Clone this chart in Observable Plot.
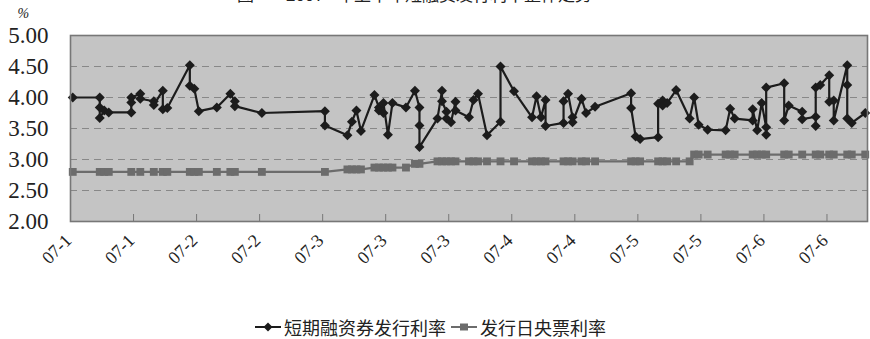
<!DOCTYPE html>
<html><head><meta charset="utf-8">
<script src="https://cdn.jsdelivr.net/npm/d3@7"></script>
<script src="https://cdn.jsdelivr.net/npm/@observablehq/plot@0.6"></script>
<style>
body{margin:0;background:#fff;width:870px;height:339px;position:relative;overflow:hidden;}
#title{position:absolute;top:-15px;left:0;width:870px;height:17px;font:17px/17px "Noto Sans CJK SC";color:#222;white-space:nowrap;}
#title span{position:absolute;top:0;}
#chart{position:absolute;top:0;left:0;}
#chart svg text{font-family:"Liberation Serif","Times New Roman",serif;}
#legend{position:absolute;top:316px;left:255px;display:flex;align-items:center;font:18px/22px "Noto Sans CJK SC";color:#222;white-space:nowrap;}
#legend svg{margin-right:3px;}
#legend span{margin-right:5px;}
</style></head><body>
<div id="title"><span style="left:237px">图</span><span style="left:286px">2007</span><span style="left:337px">年上半年短融资发行利率整体走势</span></div>
<div id="chart"></div>
<div id="legend"></div>
<script>
const seriesNames = ["短期融资券发行利率", "发行日央票利率"];
const seriesColors = ["#1c1c1c", "#6c6c6c"];

const shortDates = ["01-04","01-10","01-10","01-10","01-11","01-12","01-17","01-17","01-17","01-19","01-19","01-22","01-22","01-24","01-24","01-25","01-30","01-30","01-31","02-01","02-05","02-08","02-09","02-09","02-15","03-01","03-01","03-06","03-07","03-08","03-09","03-12","03-13","03-13","03-14","03-14","03-15","03-16","03-19","03-21","03-22","03-22","03-22","03-26","03-27","03-27","03-28","03-28","03-29","03-30","03-30","04-02","04-03","04-04","04-06","04-09","04-09","04-12","04-16","04-17","04-18","04-19","04-19","04-23","04-23","04-24","04-25","04-25","04-27","04-28","04-30","05-08","05-08","05-09","05-10","05-14","05-14","05-15","05-15","05-16","05-18","05-21","05-22","05-23","05-25","05-29","05-30","05-31","06-04","06-04","06-05","06-06","06-07","06-07","06-07","06-11","06-11","06-12","06-15","06-15","06-18","06-18","06-18","06-19","06-21","06-21","06-22","06-22","06-25","06-25","06-25","06-26","06-29"];
const shortRates = [4.00,4.00,3.84,3.67,3.79,3.76,3.76,3.92,4.00,4.06,3.98,3.94,3.88,4.11,3.81,3.83,4.52,4.19,4.14,3.78,3.84,4.06,3.94,3.86,3.75,3.78,3.55,3.39,3.61,3.79,3.46,4.04,3.84,3.79,3.75,3.91,3.40,3.91,3.84,4.11,3.84,3.55,3.20,3.66,4.11,3.94,3.77,3.66,3.60,3.93,3.79,3.68,3.96,4.06,3.39,3.61,4.50,4.10,3.68,4.02,3.68,3.96,3.54,3.59,3.94,4.06,3.68,3.60,3.98,3.75,3.85,4.07,3.83,3.37,3.33,3.36,3.90,3.95,3.87,3.91,4.12,3.66,4.00,3.56,3.48,3.47,3.82,3.66,3.63,3.81,3.47,3.91,3.52,3.40,4.16,4.23,3.63,3.87,3.77,3.65,3.69,3.54,4.16,4.20,4.36,3.93,3.95,3.63,4.52,4.20,3.66,3.59,3.75];

const billDates = ["01-04","01-10","01-11","01-12","01-17","01-19","01-22","01-24","01-25","01-30","01-31","02-01","02-05","02-08","02-09","02-15","03-01","03-06","03-07","03-08","03-09","03-12","03-13","03-14","03-15","03-16","03-19","03-21","03-22","03-26","03-27","03-28","03-29","03-30","04-02","04-03","04-04","04-06","04-09","04-12","04-16","04-17","04-18","04-19","04-23","04-24","04-25","04-27","04-28","04-30","05-08","05-09","05-10","05-14","05-15","05-16","05-18","05-21","05-22","05-23","05-25","05-29","05-30","05-31","06-04","06-05","06-06","06-07","06-11","06-12","06-15","06-18","06-19","06-21","06-22","06-25","06-26","06-29"];
const billRates = [2.80,2.80,2.80,2.80,2.80,2.80,2.80,2.80,2.80,2.80,2.80,2.80,2.80,2.80,2.80,2.80,2.80,2.84,2.84,2.84,2.84,2.87,2.87,2.87,2.87,2.87,2.87,2.93,2.93,2.97,2.97,2.97,2.97,2.97,2.97,2.97,2.97,2.97,2.97,2.97,2.97,2.97,2.97,2.97,2.97,2.97,2.97,2.97,2.97,2.97,2.97,2.97,2.97,2.97,2.97,2.97,2.97,2.97,3.08,3.08,3.08,3.08,3.08,3.08,3.08,3.08,3.08,3.08,3.08,3.08,3.08,3.08,3.08,3.08,3.08,3.08,3.08,3.08];

const tickDates = ["01-04","01-18","02-01","02-15","03-01","03-15","03-29","04-12","04-26","05-10","05-24","06-07","06-21"];
const tickLabels = ["07-1","07-1","07-2","07-2","07-3","07-3","07-3","07-4","07-4","07-5","07-5","07-6","07-6"];
const xStart = "01-04", xEnd = "06-30";
const yTicks = [2, 2.5, 3, 3.5, 4, 4.5, 5];
const gridValues = [2.5, 3, 3.5, 4, 4.5];
const yUnit = "%";

const serif = '"Liberation Serif", "Times New Roman", serif';
const day = s => new Date("2007-" + s + "T00:00:00Z");
const mid = s => new Date(+day(s) + 12 * 3600e3);
const shortData = shortDates.map((d, i) => ({date: mid(d), rate: shortRates[i]}));
const billData = billDates.map((d, i) => ({date: mid(d), rate: billRates[i]}));
const ticks = tickDates.map(day);
const labelOf = new Map(ticks.map((t, i) => [+t, tickLabels[i]]));

const chart = Plot.plot({
  width: 870, height: 300,
  marginTop: 35, marginBottom: 79, marginLeft: 70, marginRight: 3,
  style: {fontFamily: serif, background: "transparent", color: "#222"},
  x: {type: "utc", domain: [day(xStart), day(xEnd)]},
  y: {domain: [2, 5]},
  marks: [
    Plot.frame({fill: "#c4c4c4"}),
    Plot.gridY(gridValues, {stroke: "#888", strokeOpacity: 1, strokeDasharray: "7,5", strokeWidth: 1}),
    Plot.axisY(yTicks, {tickSize: 0, tickPadding: 22, tickFormat: d => d.toFixed(2), fontSize: 23, fontFamily: serif, label: null}),
    Plot.axisX(ticks, {tickSize: -7, stroke: "#777", tickFormat: () => "", label: null}),
    Plot.axisX(ticks, {tickSize: 0, tickPadding: 16, tickRotate: -45, tickFormat: d => labelOf.get(+d), fontSize: 18, fontFamily: serif, label: null, dx: -2}),
    Plot.text([yUnit], {frameAnchor: "top-left", dx: -53, dy: -27, fontSize: 14, fontStyle: "italic", fontFamily: serif}),
    Plot.line(billData, {x: "date", y: "rate", stroke: seriesColors[1], strokeWidth: 2.2}),
    Plot.dot(billData, {x: "date", y: "rate", symbol: "square2", r: 5, fill: seriesColors[1], stroke: "none"}),
    Plot.line(shortData, {x: "date", y: "rate", stroke: seriesColors[0], strokeWidth: 2.2}),
    Plot.dot(shortData, {x: "date", y: "rate", symbol: "diamond2", r: 4.5, fill: seriesColors[0], stroke: "none"}),
    Plot.frame({stroke: "#777", strokeWidth: 1.6})
  ]
});
document.getElementById("chart").append(chart);

const legend = document.getElementById("legend");
const markerPaths = ["M13 1.5L17.5 6L13 10.5L8.5 6Z", "M9 2.5H17V9.5H9Z"];
seriesNames.forEach((name, i) => {
  const ns = "http://www.w3.org/2000/svg";
  const svg = document.createElementNS(ns, "svg");
  svg.setAttribute("width", 26); svg.setAttribute("height", 12);
  const line = document.createElementNS(ns, "line");
  line.setAttribute("x1", 0); line.setAttribute("x2", 26); line.setAttribute("y1", 6); line.setAttribute("y2", 6);
  line.setAttribute("stroke", seriesColors[i]); line.setAttribute("stroke-width", 2);
  const p = document.createElementNS(ns, "path");
  p.setAttribute("d", markerPaths[i]); p.setAttribute("fill", seriesColors[i]);
  svg.append(line, p);
  const span = document.createElement("span");
  span.textContent = name;
  legend.append(svg, span);
});
</script>
</body></html>
